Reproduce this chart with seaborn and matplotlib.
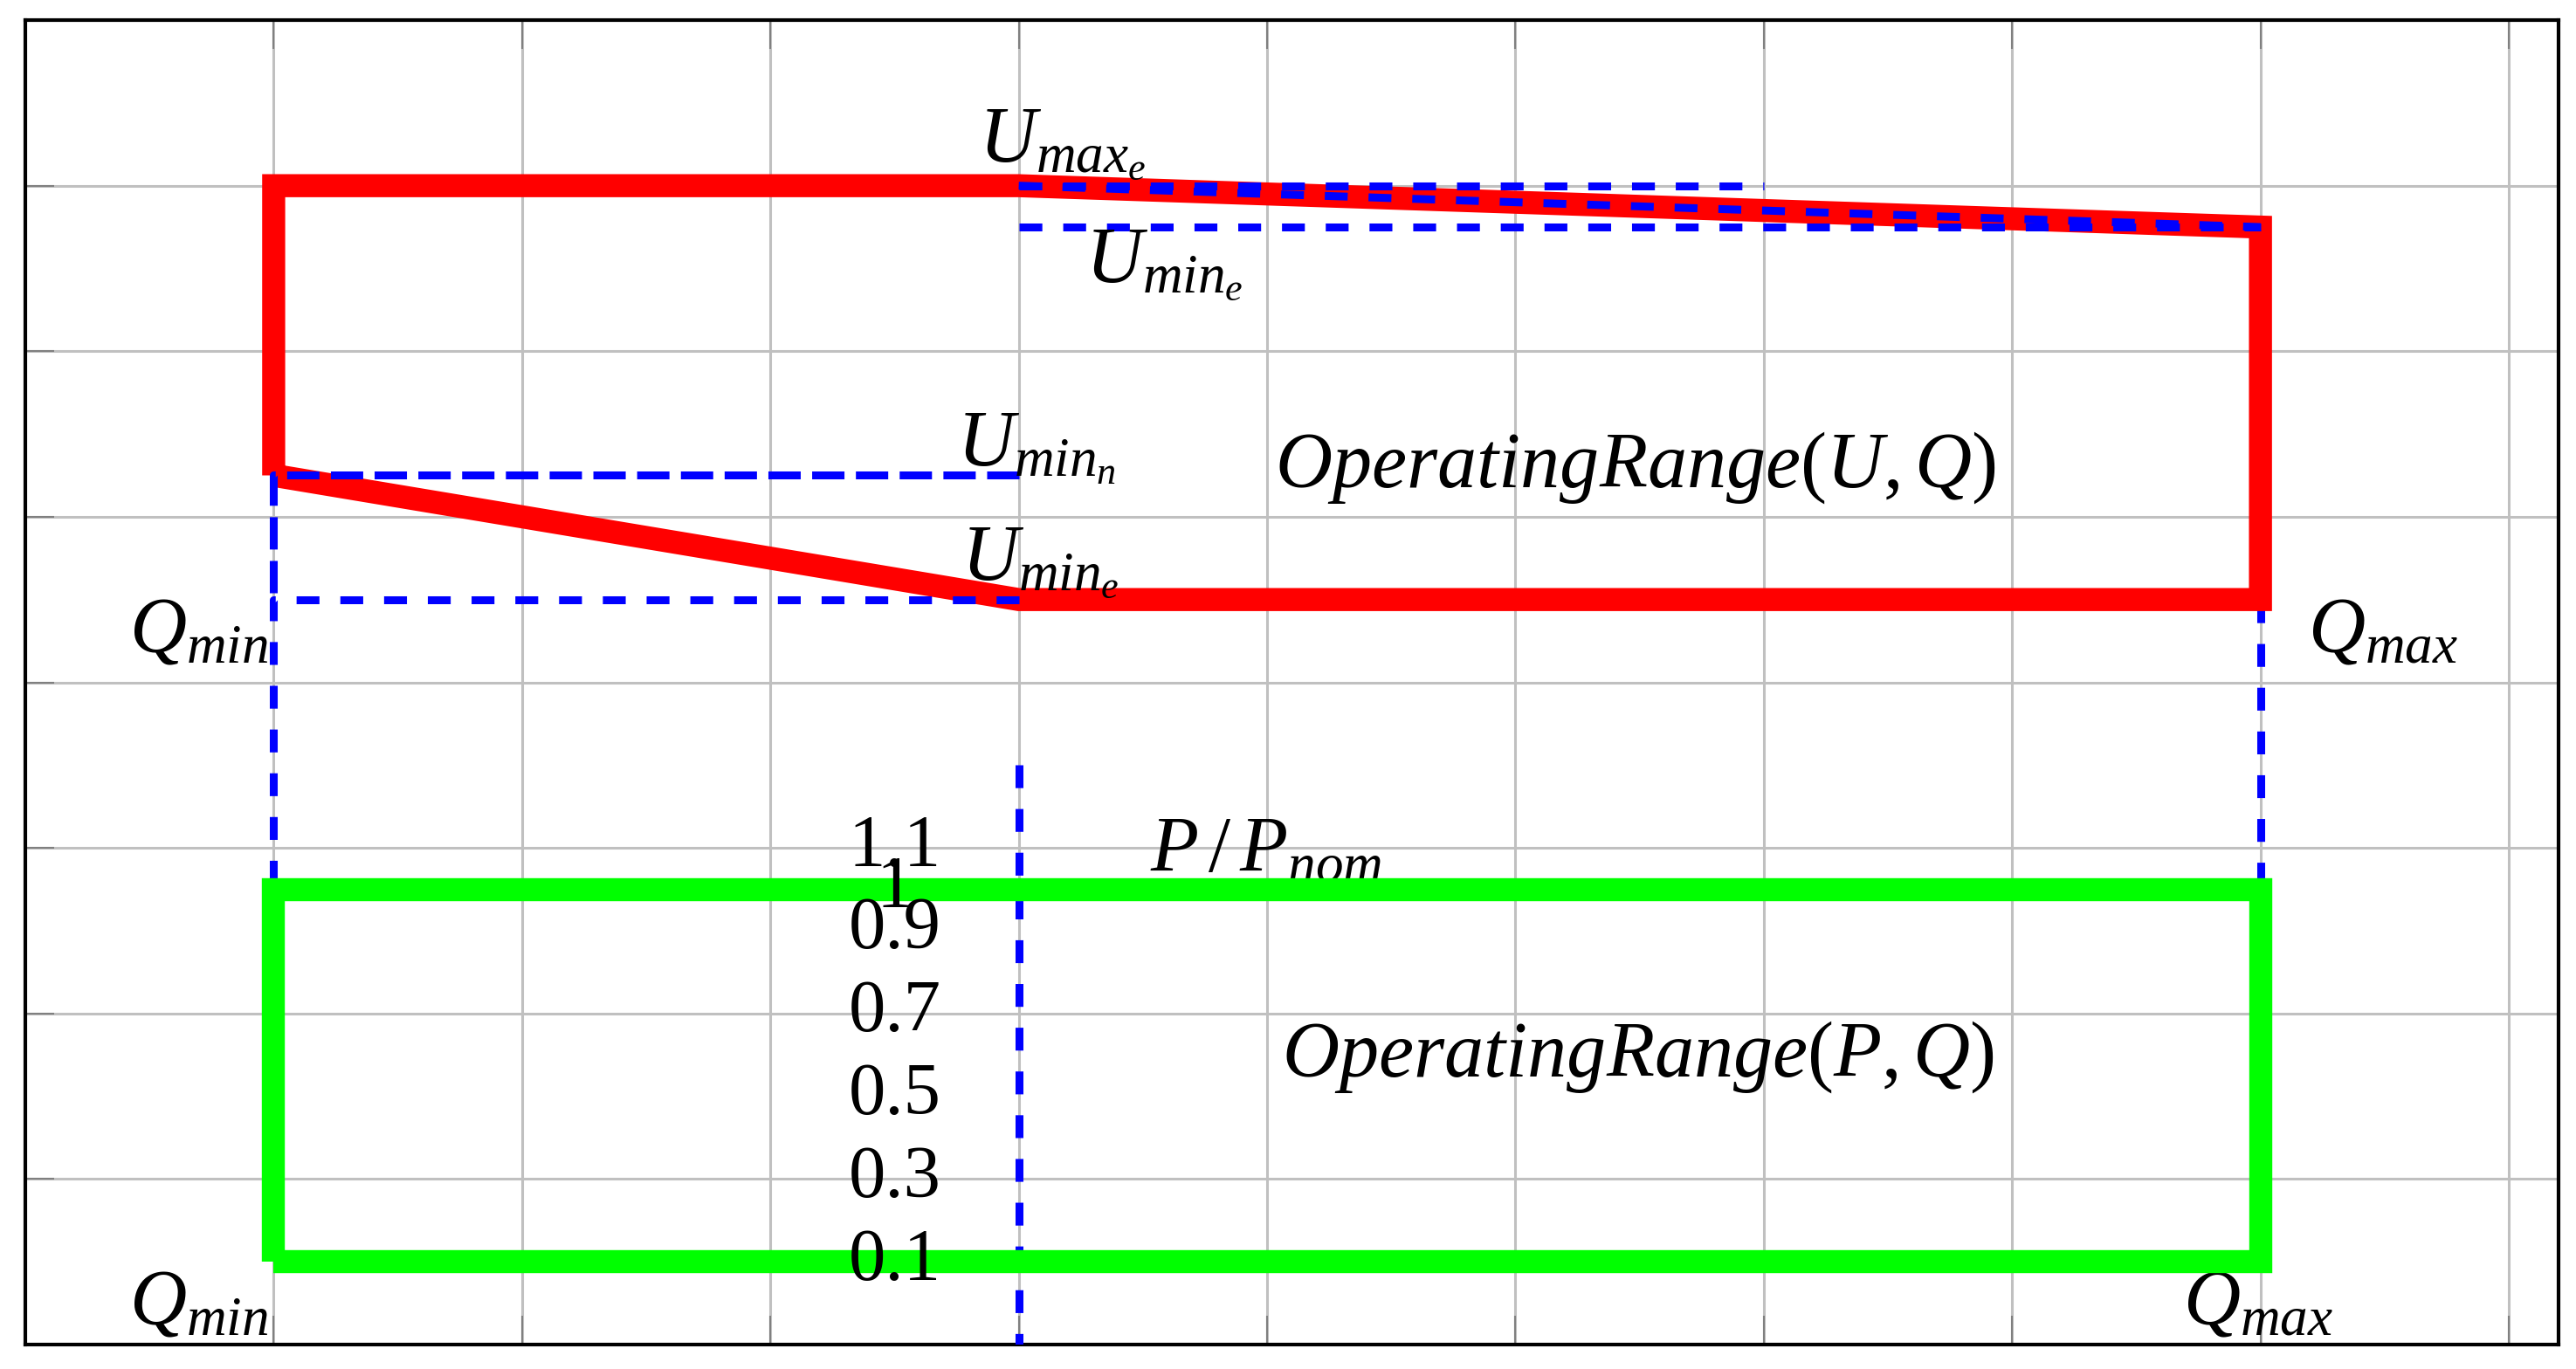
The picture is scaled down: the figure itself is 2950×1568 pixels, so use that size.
import matplotlib
matplotlib.use("Agg")
import matplotlib.pyplot as plt
import seaborn as sns

# ---------------- data ----------------
# U-Q operating range polygon (red), Q in grid units, U in grid units
uq_q = [1, 4, 9, 9, 4, 1, 1]
uq_u = [5.25, 4.5, 4.5, 6.75, 7.0, 7.0, 5.25]

# P-Q operating range (green), P in per-unit
pq_q = [1, 9, 9, 1, 1]
pq_p = [0.1, 0.1, 1.0, 1.0, 0.1]

# dashed helper lines (blue) in U-Q coordinates
umax_e_q = [4, 7];          umax_e_u = [7.0, 7.0]
slope_q = [4, 9];           slope_u = [7.0, 6.75]
umin_e_up_q = [4, 9];       umin_e_up_u = [6.75, 6.75]
qmax_q = [9, 9];            qmax_u = [4.5, 2.75]
umin_n_q = [4, 1, 1];       umin_n_u = [5.25, 5.25, 4.5]
umin_e_lo_q = [4, 1, 1];    umin_e_lo_u = [4.5, 4.5, 2.75]

# P axis (dashed, at Q = 4)
paxis_q = [4, 4]
paxis_p = [1.3, -0.1]

# P axis tick labels
p_ticks = [1.1, 1.0, 0.9, 0.7, 0.5, 0.3, 0.1]
p_tick_labels = ["1.1", "1", "0.9", "0.7", "0.5", "0.3", "0.1"]

# ---------------- style ----------------
sns.set_theme(style="whitegrid")
plt.rcParams["font.family"] = ["Liberation Serif", "DejaVu Serif"]
plt.rcParams["mathtext.fontset"] = "custom"
plt.rcParams["mathtext.it"] = "Liberation Serif:italic"
plt.rcParams["mathtext.rm"] = "Liberation Serif"

fig = plt.figure(figsize=(29.5, 15.68), dpi=100)
ax = fig.add_axes([0.00983, 0.01786, 0.98337, 0.96744])
ax.set_facecolor("white")
ax.set_xlim(0, 10.2)
ax.set_ylim(0, 8)
ax.set_xticks(range(0, 11))
ax.set_yticks(range(0, 9))
ax.set_xticklabels([])
ax.set_yticklabels([])
ax.grid(True, color="#c0c0c0", linewidth=2.2)
ax.tick_params(direction="in", length=24, width=1.5, color="#808080",
               top=True, bottom=True, left=True, right=True)
for s in ax.spines.values():
    s.set_visible(True)
    s.set_color("black")
    s.set_linewidth(3)
    s.set_zorder(10)
ax.set_axisbelow(True)

blue = "#0000ff"
dash_a = (2.9, 2.65)
dash_b = (4.1, 1.45)

# red polygon
sns.lineplot(x=uq_q, y=uq_u, sort=False, estimator=None, ax=ax, color="#ff0000",
             linewidth=19, solid_joinstyle="miter", solid_capstyle="butt", zorder=3)

def dline(xs, ys, dash, axx, z=4):
    axx.plot(xs, ys, color=blue, linewidth=6.5, linestyle=(0, dash),
             dash_capstyle="butt", zorder=z)

dline(umax_e_q, umax_e_u, dash_a, ax)
dline(slope_q, slope_u, dash_a, ax)
dline(umin_e_up_q, umin_e_up_u, dash_a, ax)
dline(qmax_q, qmax_u, dash_a, ax, z=2.5)
dline(umin_n_q, umin_n_u, dash_b, ax)
dline(umin_e_lo_q, umin_e_lo_u, dash_a, ax)

# secondary P axis sharing the Q axis
ax2 = ax.twinx()
ax2.set_ylim(-0.1, 3.1)
ax2.set_yticks([])
ax2.grid(False)
for s in ax2.spines.values():
    s.set_visible(False)
ax2.patch.set_visible(False)

dline(paxis_q, paxis_p, dash_a, ax2)
sns.lineplot(x=pq_q, y=pq_p, sort=False, estimator=None, ax=ax2, color="#00ff00",
             linewidth=19, solid_joinstyle="miter", solid_capstyle="butt", zorder=5)

for p, lab in zip(p_ticks, p_tick_labels):
    ax2.text(3.50, p, lab, ha="center", va="center", fontsize=61,
             family="Liberation Serif", color="black", zorder=6)

fs = 65
txt = dict(fontsize=fs, color="black", va="baseline", zorder=6)
ax.text(3.84, 7.15, r"$U_{max_e}$", ha="left", **txt)
ax.text(4.27, 6.42, r"$U_{min_e}$", ha="left", **txt)
ax.text(3.75, 5.31, r"$U_{min_n}$", ha="left", **txt)
ax.text(3.77, 4.62, r"$U_{min_e}$", ha="left", **txt)
ax.text(5.03, 5.18, r"$OperatingRange(U,Q)$", ha="left", **txt)
ax.text(0.98, 4.18, r"$Q_{min}$", ha="right", **txt)
ax.text(9.19, 4.18, r"$Q_{max}$", ha="left", **txt)
ax.text(4.53, 2.86, r"$P\,/\,P_{nom}$", ha="left", **txt)
ax.text(5.06, 1.62, r"$OperatingRange(P,Q)$", ha="left", **txt)
ax.text(0.98, 0.12, r"$Q_{min}$", ha="right", **txt)
ax.text(8.69, 0.12, r"$Q_{max}$", ha="left", **txt)

fig.savefig("out.png", dpi=100, facecolor="white")
